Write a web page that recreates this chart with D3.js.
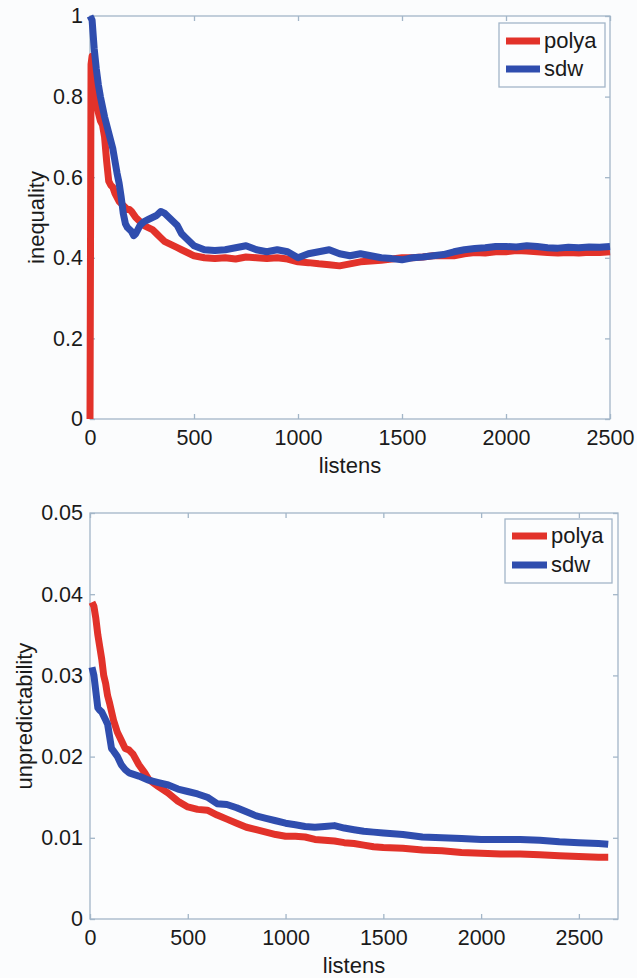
<!DOCTYPE html>
<html>
<head>
<meta charset="utf-8">
<script src="https://cdn.jsdelivr.net/npm/d3@7"></script>
<style>
  body { margin: 0; background: #fbfcfd; }
  svg { display: block; font-family: 'Liberation Sans', Arial, sans-serif; }
</style>
</head>
<body>
<svg id="chart" width="637" height="978"></svg>
<script>
// top panel: inequality vs listens
const topPolyaX = [0, 5, 10, 20, 30, 40, 50, 60, 70, 80, 90, 100, 110, 120, 130, 140, 150, 160, 170, 180, 190, 200, 220, 240, 260, 280, 300, 320, 340, 360, 380, 400, 420, 440, 460, 480, 500, 550, 600, 650, 700, 750, 800, 850, 900, 950, 1000, 1050, 1100, 1150, 1200, 1250, 1300, 1350, 1400, 1450, 1500, 1550, 1600, 1650, 1700, 1750, 1800, 1850, 1900, 1950, 2000, 2050, 2100, 2150, 2200, 2250, 2300, 2350, 2400, 2450, 2500];
const topPolyaY = [0, 0.88, 0.9, 0.84, 0.79, 0.76, 0.74, 0.73, 0.7, 0.64, 0.59, 0.58, 0.575, 0.56, 0.55, 0.54, 0.535, 0.53, 0.525, 0.52, 0.52, 0.515, 0.5, 0.49, 0.48, 0.475, 0.47, 0.46, 0.45, 0.44, 0.435, 0.43, 0.425, 0.42, 0.415, 0.41, 0.405, 0.4, 0.398, 0.4, 0.397, 0.402, 0.4, 0.398, 0.4, 0.397, 0.39, 0.388, 0.385, 0.383, 0.38, 0.385, 0.39, 0.392, 0.394, 0.397, 0.4, 0.4, 0.402, 0.405, 0.405, 0.405, 0.41, 0.413, 0.412, 0.415, 0.415, 0.418, 0.417, 0.415, 0.413, 0.412, 0.413, 0.412, 0.414, 0.413, 0.415];
const topSdwX = [0, 10, 20, 30, 40, 50, 60, 70, 80, 90, 100, 110, 120, 130, 140, 150, 160, 170, 180, 190, 200, 210, 220, 240, 260, 280, 300, 320, 340, 360, 380, 400, 420, 440, 460, 480, 500, 550, 600, 650, 700, 750, 800, 850, 900, 950, 1000, 1050, 1100, 1150, 1200, 1250, 1300, 1350, 1400, 1450, 1500, 1550, 1600, 1650, 1700, 1750, 1800, 1850, 1900, 1950, 2000, 2050, 2100, 2150, 2200, 2250, 2300, 2350, 2400, 2450, 2500];
const topSdwY = [1.0, 0.99, 0.92, 0.87, 0.83, 0.8, 0.775, 0.75, 0.73, 0.71, 0.69, 0.67, 0.64, 0.61, 0.585, 0.55, 0.51, 0.485, 0.475, 0.47, 0.465, 0.455, 0.46, 0.48, 0.49, 0.495, 0.5, 0.505, 0.515, 0.51, 0.5, 0.49, 0.48, 0.46, 0.45, 0.44, 0.43, 0.42, 0.418, 0.42, 0.425, 0.43, 0.42, 0.415, 0.42, 0.415, 0.4, 0.41, 0.415, 0.42, 0.41, 0.405, 0.41, 0.405, 0.4, 0.398, 0.395, 0.4, 0.402, 0.405, 0.408, 0.415, 0.42, 0.423, 0.425, 0.428, 0.428, 0.427, 0.43, 0.428, 0.425, 0.424, 0.426, 0.425, 0.427, 0.426, 0.428];

// bottom panel: unpredictability vs listens
const botPolyaX = [10, 20, 30, 40, 50, 60, 70, 80, 90, 100, 120, 140, 160, 180, 200, 220, 250, 280, 300, 350, 400, 450, 500, 550, 600, 650, 700, 750, 800, 850, 900, 950, 1000, 1050, 1100, 1150, 1200, 1250, 1300, 1350, 1400, 1450, 1500, 1600, 1700, 1800, 1900, 2000, 2100, 2200, 2300, 2400, 2500, 2600, 2650];
const botPolyaY = [0.039, 0.0385, 0.037, 0.035, 0.0335, 0.032, 0.03, 0.029, 0.0275, 0.0266, 0.0245, 0.023, 0.022, 0.021, 0.0208, 0.0203, 0.019, 0.018, 0.0172, 0.0163, 0.0155, 0.0145, 0.0138, 0.0135, 0.0134, 0.0128, 0.0123, 0.0118, 0.0113, 0.011, 0.0107, 0.0104, 0.0102, 0.0102, 0.0101, 0.0098, 0.0097, 0.0096, 0.0094, 0.0093, 0.0091, 0.0089, 0.0088, 0.0087, 0.0085, 0.0084, 0.0082, 0.0081, 0.008, 0.008, 0.0079, 0.0078, 0.0077, 0.0076, 0.0076];
const botSdwX = [10, 20, 30, 40, 50, 60, 70, 80, 90, 100, 110, 120, 140, 160, 180, 200, 250, 300, 350, 400, 450, 500, 550, 600, 650, 700, 750, 800, 850, 900, 950, 1000, 1050, 1100, 1150, 1200, 1250, 1300, 1350, 1400, 1450, 1500, 1600, 1700, 1800, 1900, 2000, 2100, 2200, 2300, 2400, 2500, 2600, 2650];
const botSdwY = [0.031, 0.03, 0.028, 0.026, 0.0257, 0.0255, 0.025, 0.0245, 0.024, 0.0225, 0.021, 0.0207, 0.02, 0.019, 0.0184, 0.018, 0.0176, 0.0171, 0.0168, 0.0165, 0.016, 0.0157, 0.0154, 0.015, 0.0142, 0.0141, 0.0137, 0.0132, 0.0127, 0.0124, 0.0121, 0.0118, 0.0116, 0.0114, 0.0113, 0.0114, 0.0115, 0.0112, 0.011, 0.0108, 0.0107, 0.0106, 0.0104, 0.0101, 0.01, 0.0099, 0.0098, 0.0098, 0.0098, 0.0097, 0.0095, 0.0094, 0.0093, 0.0092];

const xTicks = [0, 500, 1000, 1500, 2000, 2500];
const topYTicks = [0, 0.2, 0.4, 0.6, 0.8, 1];
const botYTicks = [0, 0.01, 0.02, 0.03, 0.04, 0.05];
const seriesNames = ['polya', 'sdw'];
const colors = ['#e2322a', '#2f4dae'];
const axisColor = '#a3b6c8';

const svg = d3.select('#chart');

function drawPanel({ box, xMax, yTicks, yFmt, yLabel, yLabelX, series, legend }) {
  const x = d3.scaleLinear().domain([0, xMax]).range([box.x0, box.x1]);
  const y = d3.scaleLinear().domain([0, yTicks[yTicks.length - 1]]).range([box.y1, box.y0]);
  const g = svg.append('g');

  g.append('rect')
      .attr('x', box.x0).attr('y', box.y0)
      .attr('width', box.x1 - box.x0).attr('height', box.y1 - box.y0)
      .attr('fill', '#fcfdfe')
      .attr('stroke', axisColor).attr('stroke-width', 1.3);

  // mirrored ticks on top/right, no labels
  g.append('g').attr('transform', `translate(0,${box.y0})`)
      .call(d3.axisTop(x).tickValues(xTicks).tickSize(-5).tickFormat(''));
  g.append('g').attr('transform', `translate(${box.x1},0)`)
      .call(d3.axisRight(y).tickValues(yTicks).tickSize(-5).tickFormat(''));

  g.append('g').attr('transform', `translate(0,${box.y1})`)
      .call(d3.axisBottom(x).tickValues(xTicks).tickSize(-5).tickPadding(11).tickFormat(d3.format('d')));
  g.append('g').attr('transform', `translate(${box.x0},0)`)
      .call(d3.axisLeft(y).tickValues(yTicks).tickSize(-5).tickPadding(7).tickFormat(yFmt));

  g.selectAll('.domain').remove();
  g.selectAll('.tick line').attr('stroke', axisColor).attr('stroke-width', 1.3);
  g.selectAll('.tick text').attr('fill', '#1a1a1a').style('font-size', '21.5px');

  const line = d3.line().x(d => x(d[0])).y(d => y(d[1]));
  series.forEach((s, i) => {
    g.append('path')
        .datum(d3.zip(s.xs, s.ys))
        .attr('d', line)
        .attr('fill', 'none')
        .attr('stroke', colors[i])
        .attr('stroke-width', 7)
        .attr('stroke-linejoin', 'round');
  });

  g.append('text')
      .attr('x', (box.x0 + box.x1) / 2).attr('y', box.y1 + 54)
      .attr('text-anchor', 'middle').attr('fill', '#1a1a1a')
      .style('font-size', '22px')
      .text('listens');
  g.append('text')
      .attr('transform', `translate(${yLabelX},${(box.y0 + box.y1) / 2}) rotate(-90)`)
      .attr('text-anchor', 'middle').attr('fill', '#1a1a1a')
      .style('font-size', '22px')
      .text(yLabel);

  // legend
  const lg = g.append('g');
  lg.append('rect')
      .attr('x', legend.x0).attr('y', legend.y0)
      .attr('width', legend.x1 - legend.x0).attr('height', legend.y1 - legend.y0)
      .attr('fill', '#fcfdfe').attr('stroke', axisColor).attr('stroke-width', 1.3);
  seriesNames.forEach((name, i) => {
    const ly = legend.rows[i];
    lg.append('line')
        .attr('x1', legend.lx0).attr('x2', legend.lx1)
        .attr('y1', ly).attr('y2', ly)
        .attr('stroke', colors[i]).attr('stroke-width', 7);
    lg.append('text')
        .attr('x', legend.lx1 + 4).attr('y', ly)
        .attr('dy', '0.32em').attr('fill', '#1a1a1a')
        .style('font-size', '22px')
        .text(name);
  });
}

drawPanel({
  box: { x0: 90, x1: 610, y0: 16, y1: 419 },
  xMax: 2500,
  yTicks: topYTicks,
  yFmt: d => d3.format('~g')(d),
  yLabel: 'inequality',
  yLabelX: 44,
  series: [{ xs: topPolyaX, ys: topPolyaY }, { xs: topSdwX, ys: topSdwY }],
  legend: { x0: 499, x1: 605, y0: 23, y1: 87, lx0: 506, lx1: 540, rows: [41, 69] },
});

drawPanel({
  box: { x0: 90, x1: 618, y0: 513, y1: 919 },
  xMax: 2700,
  yTicks: botYTicks,
  yFmt: d => d === 0 ? '0' : d3.format('.2f')(d),
  yLabel: 'unpredictability',
  yLabelX: 32,
  series: [{ xs: botPolyaX, ys: botPolyaY }, { xs: botSdwX, ys: botSdwY }],
  legend: { x0: 505, x1: 612, y0: 519, y1: 583, lx0: 512, lx1: 547, rows: [536, 565] },
});
</script>
</body>
</html>
